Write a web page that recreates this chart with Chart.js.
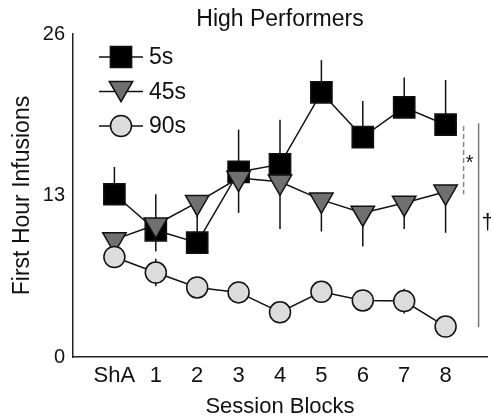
<!DOCTYPE html>
<html>
<head>
<meta charset="utf-8">
<script src="https://cdn.jsdelivr.net/npm/chart.js@4.4.0/dist/chart.umd.min.js"></script>
<style>
  html, body { margin: 0; padding: 0; background: #fff; }
  #wrap { width: 491px; height: 420px; }
</style>
</head>
<body>
<div id="wrap"><canvas id="chart" width="491" height="420"></canvas></div>
<script>
const FONT = "'Liberation Sans', Arial, Helvetica, sans-serif";
const INK = '#111';

// session blocks on the x axis
const sessions = ['ShA', '1', '2', '3', '4', '5', '6', '7', '8'];
const yTicks = [0, 13, 26];

// mean first-hour infusions per timeout group, with SEM
const short5 = [13.1, 10.2, 9.2, 14.9, 15.5, 21.3, 17.7, 20.1, 18.7];
const short5Err = [2.2, 2.9, 2.5, 3.4, 3.6, 2.6, 2.9, 2.4, 3.6];
const mid45 = [9.45, 10.65, 12.45, 14.4, 14.1, 12.65, 11.6, 12.4, 13.3];
const mid45Err = [1.0, 2.15, 1.2, 2.8, 3.8, 2.55, 2.7, 2.1, 3.3];
const long90 = [8.05, 6.8, 5.6, 5.2, 3.6, 5.25, 4.55, 4.5, 2.45];
const long90Err = [0.4, 1.1, 0.4, 0.4, 0.5, 0.4, 0.4, 1.0, 0.4];

// significance brackets at block 8: [from, to] in infusions
const starSpan = [18.6, 13.1];
const daggerSpan = [18.8, 2.4];

const toPoints = arr => arr.map((v, i) => ({ x: i, y: v }));

// vertical error bars, drawn behind the markers
const errorBars = {
  id: 'errorBars',
  beforeDatasetsDraw(chart) {
    const { ctx, scales: { x, y } } = chart;
    ctx.save();
    ctx.strokeStyle = INK;
    ctx.lineWidth = 1.5;
    chart.data.datasets.forEach(ds => {
      ds.data.forEach((p, i) => {
        const hi = p.y + (ds.errUp ? ds.errUp[i] : 0);
        const lo = p.y - (ds.errDown ? ds.errDown[i] : 0);
        const px = x.getPixelForValue(p.x);
        ctx.beginPath();
        ctx.moveTo(px, y.getPixelForValue(hi));
        ctx.lineTo(px, y.getPixelForValue(lo));
        ctx.stroke();
      });
    });
    ctx.restore();
  }
};

// title, legend with line-through markers, and significance marks
const extras = {
  id: 'extras',
  afterDraw(chart) {
    const { ctx, chartArea, scales: { x, y } } = chart;
    ctx.save();

    ctx.fillStyle = INK;
    ctx.font = '23px ' + FONT;
    ctx.textAlign = 'center';
    ctx.textBaseline = 'middle';
    ctx.fillText('High Performers', (chartArea.left + chartArea.right) / 2, 20);

    chart.data.datasets.forEach((ds, k) => {
      const rowY = 57 + k * 34.5;
      ctx.strokeStyle = INK;
      ctx.lineWidth = 1.5;
      ctx.beginPath();
      ctx.moveTo(99, rowY);
      ctx.lineTo(143, rowY);
      ctx.stroke();
      const r = ds.pointRadius;
      const cy = ds.pointStyle === 'triangle' ? rowY - r / 4 : rowY;
      ctx.fillStyle = ds.pointBackgroundColor;
      Chart.helpers.drawPoint(ctx, {
        pointStyle: ds.pointStyle,
        rotation: ds.pointRotation || 0,
        radius: r,
        borderWidth: 1.5
      }, 121, cy);
      ctx.fillStyle = INK;
      ctx.font = '23px ' + FONT;
      ctx.textAlign = 'left';
      ctx.textBaseline = 'middle';
      ctx.fillText(ds.label, 149, rowY + 1);
    });

    const x8 = x.getPixelForValue(8);
    ctx.strokeStyle = '#888';
    ctx.lineWidth = 1.5;
    ctx.setLineDash([5, 3]);
    ctx.beginPath();
    ctx.moveTo(x8 + 18, y.getPixelForValue(starSpan[0]));
    ctx.lineTo(x8 + 18, y.getPixelForValue(starSpan[1]));
    ctx.stroke();
    ctx.setLineDash([]);
    ctx.strokeStyle = '#777';
    ctx.beginPath();
    ctx.moveTo(x8 + 33, y.getPixelForValue(daggerSpan[0]));
    ctx.lineTo(x8 + 33, y.getPixelForValue(daggerSpan[1]));
    ctx.stroke();

    ctx.fillStyle = INK;
    ctx.textAlign = 'center';
    ctx.font = '20px ' + FONT;
    ctx.fillText('*', x8 + 24, y.getPixelForValue((starSpan[0] + starSpan[1]) / 2) + 3);
    ctx.font = '22px ' + FONT;
    ctx.fillText('\u2020', x8 + 42, y.getPixelForValue((daggerSpan[0] + daggerSpan[1]) / 2) - 2);
    ctx.restore();
  }
};

const line = { borderColor: INK, borderWidth: 1.5, pointBorderColor: INK, pointBorderWidth: 1.5 };

new Chart(document.getElementById('chart'), {
  type: 'line',
  data: {
    datasets: [
      { ...line, label: '5s', data: toPoints(short5), errUp: short5Err,
        pointStyle: 'rect', pointRadius: 15, pointBackgroundColor: '#000', order: 3 },
      { ...line, label: '45s', data: toPoints(mid45), errDown: mid45Err,
        pointStyle: 'triangle', pointRotation: 180, pointRadius: 13.5, pointBackgroundColor: '#707070', order: 2 },
      { ...line, label: '90s', data: toPoints(long90), errUp: long90Err, errDown: long90Err,
        pointStyle: 'circle', pointRadius: 10.5, pointBackgroundColor: '#dcdcdc', order: 1 }
    ]
  },
  options: {
    responsive: false,
    animation: false,
    events: [],
    clip: false,
    layout: { autoPadding: false, padding: { top: 34, right: 4, left: 0, bottom: 0 } },
    plugins: { legend: { display: false }, tooltip: { enabled: false } },
    scales: {
      x: {
        type: 'linear',
        min: -1,
        max: 9,
        afterBuildTicks: axis => { axis.ticks = sessions.map((s, i) => ({ value: i })); },
        afterFit: axis => { axis.height = 63; },
        grid: { display: false, drawTicks: false },
        border: { display: true, color: '#222', width: 1.5 },
        ticks: {
          padding: 6,
          color: INK,
          font: { family: FONT, size: 22 },
          callback: v => sessions[v]
        },
        title: {
          display: true,
          text: 'Session Blocks',
          color: INK,
          font: { family: FONT, size: 22 },
          padding: { top: 0, bottom: 0 }
        }
      },
      y: {
        min: 0,
        max: 26,
        afterBuildTicks: axis => { axis.ticks = yTicks.map(v => ({ value: v })); },
        afterFit: axis => { axis.width = 73; },
        grid: { display: false, drawTicks: false },
        border: { display: true, color: '#222', width: 1.5 },
        ticks: {
          padding: 8,
          color: INK,
          font: { family: FONT, size: 20 }
        },
        title: {
          display: true,
          text: 'First Hour Infusions',
          color: INK,
          font: { family: FONT, size: 23 },
          padding: { top: 9, bottom: 0 }
        }
      }
    }
  },
  plugins: [errorBars, extras]
});
</script>
</body>
</html>
